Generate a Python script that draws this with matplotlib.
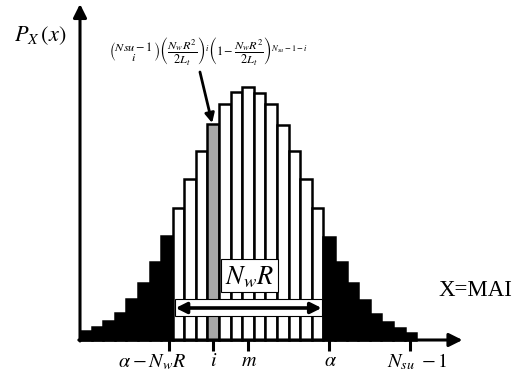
import matplotlib
matplotlib.use("Agg")
import matplotlib.pyplot as plt
from matplotlib.patches import Rectangle

plt.rcParams['mathtext.fontset'] = 'stix'
plt.rcParams['font.family'] = 'Liberation Serif'

# P_X(x) for x = 0 .. N_su-1, arbitrary units
heights = [9, 13, 19, 27, 41, 57, 78, 104, 132, 161, 189, 216, 236, 248, 253,
           247, 236, 215, 189, 161, 132, 103, 78, 57, 40, 26, 18, 12, 7]
win_lo, win_hi = 8, 20        # bins inside the window [alpha - N_w R, alpha)
i_bin = 11                    # highlighted bin i

tick_pos = [7.7, 11.5, 14.5, 21.5, 28.5]
label_pos = [6.2, 11.5, 14.6, 21.65, 29.1]
tick_labels = [r'$\alpha-N_wR$', r'$i$', r'$m$', r'$\alpha$', r'$N_{su}\;-1$']

formula = (r'$\genfrac{(}{)}{0}{0}{Nsu-1}{i}\left(\dfrac{N_wR^2}{2L_t}\right)^{i}'
           r'\left(1-\dfrac{N_wR^2}{2L_t}\right)^{N_{su}-1-i}$')

W = 11.59   # px per bin
fig = plt.figure(figsize=(5.12, 3.82), dpi=100)
ax = fig.add_axes([0, 0, 1, 1])
ax.set_xlim(-80 / W, (512 - 80) / W)
ax.set_ylim(-42, 340)
ax.axis('off')

colors = []
for k in range(len(heights)):
    if k == i_bin:
        colors.append('#a8a8a8')
    elif win_lo <= k <= win_hi:
        colors.append('white')
    else:
        colors.append('black')
ax.bar(range(len(heights)), heights, width=1, align='edge', color=colors,
       edgecolor='black', lw=1.8, zorder=2)

# axes with arrow heads
ax.annotate('', xy=(0, 336), xytext=(0, -1),
            arrowprops=dict(arrowstyle='-|>', lw=2.2, color='k', mutation_scale=20,
                            shrinkA=0, shrinkB=0), zorder=4)
ax.annotate('', xy=(33.0, 0), xytext=(-0.1, 0),
            arrowprops=dict(arrowstyle='-|>', lw=2.2, color='k', mutation_scale=20,
                            shrinkA=0, shrinkB=0), zorder=4)
ax.vlines(tick_pos, -11, 0, color='k', lw=2.2, zorder=4)
for xp, lab in zip(label_pos, tick_labels):
    ax.text(xp, -22, lab, ha='center', va='center', fontsize=14.5)

ax.text(-3.45, 304, r'$P_X\,(x)$', ha='center', va='center', fontsize=16)
ax.text(30.95, 50, 'X=MAI', ha='left', va='center', fontsize=16.5)

# window width arrow
ax.add_patch(Rectangle((8.2, 24), 20.88 - 8.2, 17, facecolor='white',
                       edgecolor='black', lw=0.8, zorder=3))
ax.annotate('', xy=(20.85, 32), xytext=(8.25, 32),
            arrowprops=dict(arrowstyle='<|-|>', lw=2.6, color='k', mutation_scale=16,
                            shrinkA=0, shrinkB=0), zorder=4)
ax.add_patch(Rectangle((12.17, 48), 17.08 - 12.17, 33, facecolor='white',
                       edgecolor='black', lw=0.8, zorder=3))
ax.text(14.62, 63, r'$N_wR$', ha='center', va='center', fontsize=19, zorder=5)

# binomial term pointing at bin i
ax.text(11.1, 289, formula, ha='center', va='center', fontsize=8.8)
ax.annotate('', xy=(11.4, 217), xytext=(10.35, 268),
            arrowprops=dict(arrowstyle='-|>', lw=2.0, color='k', mutation_scale=14,
                            shrinkA=0, shrinkB=0), zorder=4)

fig.savefig('out.png', dpi=100)
